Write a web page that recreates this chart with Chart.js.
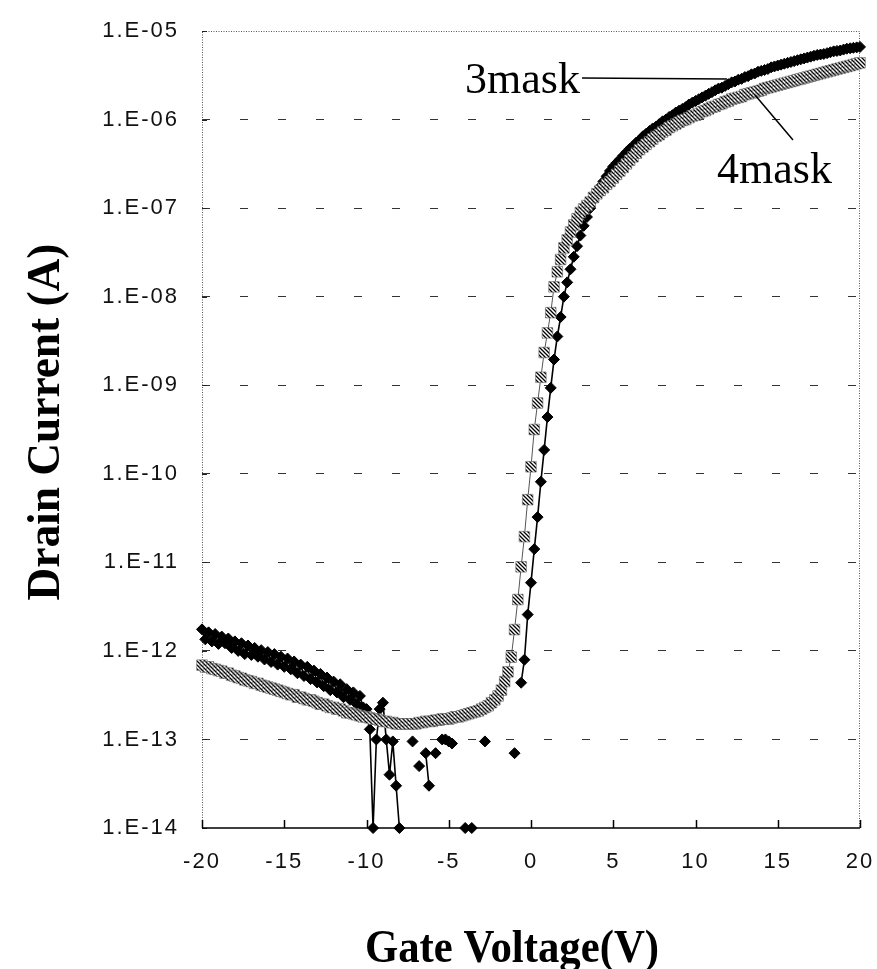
<!DOCTYPE html>
<html>
<head>
<meta charset="utf-8">
<script src="https://cdn.jsdelivr.net/npm/chart.js@4"></script>
<style>
  html, body { margin: 0; padding: 0; background: #fff; }
  #wrap { width: 877px; height: 969px; }
</style>
</head>
<body>
<div id="wrap"><canvas id="ivChart" width="877" height="969"></canvas></div>
<script>
"use strict";

// gate voltage sweep (V), 0.2 V steps
const gateVoltage = [
  -20.0, -19.8, -19.6, -19.4, -19.2, -19.0, -18.8, -18.6, -18.4, -18.2,
  -18.0, -17.8, -17.6, -17.4, -17.2, -17.0, -16.8, -16.6, -16.4, -16.2,
  -16.0, -15.8, -15.6, -15.4, -15.2, -15.0, -14.8, -14.6, -14.4, -14.2,
  -14.0, -13.8, -13.6, -13.4, -13.2, -13.0, -12.8, -12.6, -12.4, -12.2,
  -12.0, -11.8, -11.6, -11.4, -11.2, -11.0, -10.8, -10.6, -10.4, -10.2,
  -10.0, -9.8, -9.6, -9.4, -9.2, -9.0, -8.8, -8.6, -8.4, -8.2,
  -8.0, -7.8, -7.6, -7.4, -7.2, -7.0, -6.8, -6.6, -6.4, -6.2,
  -6.0, -5.8, -5.6, -5.4, -5.2, -5.0, -4.8, -4.6, -4.4, -4.2,
  -4.0, -3.8, -3.6, -3.4, -3.2, -3.0, -2.8, -2.6, -2.4, -2.2,
  -2.0, -1.8, -1.6, -1.4, -1.2, -1.0, -0.8, -0.6, -0.4, -0.2,
  0.0, 0.2, 0.4, 0.6, 0.8, 1.0, 1.2, 1.4, 1.6, 1.8,
  2.0, 2.2, 2.4, 2.6, 2.8, 3.0, 3.2, 3.4, 3.6, 3.8,
  4.0, 4.2, 4.4, 4.6, 4.8, 5.0, 5.2, 5.4, 5.6, 5.8,
  6.0, 6.2, 6.4, 6.6, 6.8, 7.0, 7.2, 7.4, 7.6, 7.8,
  8.0, 8.2, 8.4, 8.6, 8.8, 9.0, 9.2, 9.4, 9.6, 9.8,
  10.0, 10.2, 10.4, 10.6, 10.8, 11.0, 11.2, 11.4, 11.6, 11.8,
  12.0, 12.2, 12.4, 12.6, 12.8, 13.0, 13.2, 13.4, 13.6, 13.8,
  14.0, 14.2, 14.4, 14.6, 14.8, 15.0, 15.2, 15.4, 15.6, 15.8,
  16.0, 16.2, 16.4, 16.6, 16.8, 17.0, 17.2, 17.4, 17.6, 17.8,
  18.0, 18.2, 18.4, 18.6, 18.8, 19.0, 19.2, 19.4, 19.6, 19.8,
  20.0
];

// drain current (A), 3 mask process; null = not plotted (<= 0 on log axis)
const drain3mask = [
  1.75e-12, 1.35e-12, 1.62e-12, 1.28e-12, 1.55e-12, 1.20e-12, 1.45e-12, 1.22e-12, 1.38e-12, 1.08e-12,
  1.28e-12, 1.00e-12, 1.22e-12, 9.2e-13, 1.15e-12, 9.0e-13, 1.08e-12, 8.6e-13, 1.02e-12, 8.0e-13,
  9.7e-13, 7.5e-13, 9.2e-13, 7.0e-13, 8.6e-13, 6.6e-13, 8.2e-13, 6.2e-13, 7.6e-13, 5.6e-13,
  7.0e-13, 5.2e-13, 6.6e-13, 4.8e-13, 6.0e-13, 4.4e-13, 5.5e-13, 4.0e-13, 5.0e-13, 3.6e-13,
  4.5e-13, 3.4e-13, 4.2e-13, 3.0e-13, 3.7e-13, 2.8e-13, 3.4e-13, 2.5e-13, 3.1e-13, 2.3e-13,
  2.2e-13, 1.3e-13, 1e-14, 1.0e-13, 2.2e-13, 2.6e-13, 1.0e-13, 4.0e-14, 9.5e-14, 3.0e-14,
  1e-14, null, null, null, 9.5e-14, null, 5.0e-14, null, 7.0e-14, 3.0e-14,
  null, 7.0e-14, null, 1.0e-13, 1.0e-13, 9.5e-14, 9.0e-14, null, null, null,
  1e-14, null, 1e-14, null, null, null, 9.5e-14, null, null, null,
  null, null, null, null, null, 7.0e-14, null, 4.37e-13, 7.94e-13, 2.57e-12,
  5.89e-12, 1.41e-11, 3.24e-11, 8.13e-11, 1.86e-10, 4.37e-10, 9.33e-10, 1.95e-9, 3.55e-9, 5.89e-9,
  1.0e-8, 1.45e-8, 2.04e-8, 2.82e-8, 3.72e-8, 4.90e-8, 6.31e-8, 7.94e-8, 1.0e-7, 1.23e-7,
  1.48e-7, 1.74e-7, 2.0e-7, 2.29e-7, 2.63e-7, 2.95e-7, 3.24e-7, 3.55e-7, 3.89e-7, 4.27e-7,
  4.68e-7, 5.01e-7, 5.50e-7, 5.89e-7, 6.46e-7, 6.92e-7, 7.41e-7, 7.94e-7, 8.32e-7, 8.91e-7,
  9.55e-7, 1.0e-6, 1.07e-6, 1.12e-6, 1.20e-6, 1.26e-6, 1.32e-6, 1.38e-6, 1.48e-6, 1.55e-6,
  1.62e-6, 1.70e-6, 1.78e-6, 1.86e-6, 1.95e-6, 2.04e-6, 2.14e-6, 2.24e-6, 2.29e-6, 2.40e-6,
  2.51e-6, 2.63e-6, 2.69e-6, 2.82e-6, 2.88e-6, 3.02e-6, 3.09e-6, 3.24e-6, 3.31e-6, 3.47e-6,
  3.55e-6, 3.63e-6, 3.72e-6, 3.89e-6, 3.98e-6, 4.07e-6, 4.17e-6, 4.27e-6, 4.37e-6, 4.47e-6,
  4.57e-6, 4.68e-6, 4.79e-6, 4.90e-6, 5.01e-6, 5.13e-6, 5.25e-6, 5.37e-6, 5.43e-6, 5.50e-6,
  5.62e-6, 5.75e-6, 5.89e-6, 5.96e-6, 6.03e-6, 6.17e-6, 6.31e-6, 6.38e-6, 6.46e-6, 6.53e-6,
  6.61e-6
];

// drain current (A), 4 mask process
const drain4mask = [
  6.9e-13, 6.6e-13, 6.6e-13, 6.3e-13, 6.2e-13, 6.0e-13, 5.9e-13, 5.6e-13, 5.6e-13, 5.3e-13,
  5.2e-13, 5.0e-13, 4.9e-13, 4.7e-13, 4.6e-13, 4.5e-13, 4.3e-13, 4.3e-13, 4.1e-13, 4.0e-13,
  3.9e-13, 3.8e-13, 3.7e-13, 3.6e-13, 3.5e-13, 3.4e-13, 3.3e-13, 3.2e-13, 3.2e-13, 3.0e-13,
  3.0e-13, 2.9e-13, 2.8e-13, 2.8e-13, 2.7e-13, 2.6e-13, 2.5e-13, 2.5e-13, 2.4e-13, 2.3e-13,
  2.3e-13, 2.2e-13, 2.2e-13, 2.1e-13, 2.0e-13, 2.0e-13, 1.95e-13, 1.9e-13, 1.85e-13, 1.8e-13,
  1.8e-13, 1.75e-13, 1.7e-13, 1.7e-13, 1.65e-13, 1.6e-13, 1.6e-13, 1.55e-13, 1.55e-13, 1.5e-13,
  1.5e-13, 1.5e-13, 1.5e-13, 1.5e-13, 1.5e-13, 1.5e-13, 1.55e-13, 1.55e-13, 1.6e-13, 1.6e-13,
  1.6e-13, 1.65e-13, 1.65e-13, 1.7e-13, 1.7e-13, 1.7e-13, 1.75e-13, 1.8e-13, 1.8e-13, 1.85e-13,
  1.9e-13, 1.95e-13, 2.0e-13, 2.05e-13, 2.1e-13, 2.2e-13, 2.3e-13, 2.4e-13, 2.6e-13, 2.8e-13,
  3.1e-13, 3.6e-13, 4.5e-13, 5.8e-13, 8.5e-13, 1.74e-12, 3.8e-12, 8.9e-12, 1.95e-11, 5.1e-11,
  1.2e-10, 3.16e-10, 6.3e-10, 1.23e-9, 2.34e-9, 3.9e-9, 6.6e-9, 1.29e-8, 1.91e-8, 2.63e-8,
  3.55e-8, 4.37e-8, 5.37e-8, 6.46e-8, 7.59e-8, 8.91e-8, 9.77e-8, 1.07e-7, 1.17e-7, 1.32e-7,
  1.45e-7, 1.58e-7, 1.70e-7, 1.86e-7, 2.0e-7, 2.19e-7, 2.40e-7, 2.63e-7, 2.88e-7, 3.16e-7,
  3.47e-7, 3.80e-7, 4.17e-7, 4.57e-7, 4.90e-7, 5.25e-7, 5.62e-7, 6.03e-7, 6.46e-7, 6.76e-7,
  7.24e-7, 7.59e-7, 8.13e-7, 8.51e-7, 8.91e-7, 9.33e-7, 9.77e-7, 1.0e-6, 1.05e-6, 1.10e-6,
  1.12e-6, 1.17e-6, 1.23e-6, 1.26e-6, 1.32e-6, 1.38e-6, 1.41e-6, 1.48e-6, 1.51e-6, 1.58e-6,
  1.62e-6, 1.70e-6, 1.74e-6, 1.78e-6, 1.82e-6, 1.91e-6, 1.95e-6, 2.00e-6, 2.04e-6, 2.09e-6,
  2.14e-6, 2.24e-6, 2.29e-6, 2.34e-6, 2.40e-6, 2.45e-6, 2.51e-6, 2.57e-6, 2.63e-6, 2.69e-6,
  2.75e-6, 2.82e-6, 2.88e-6, 2.95e-6, 3.02e-6, 3.09e-6, 3.16e-6, 3.24e-6, 3.31e-6, 3.39e-6,
  3.47e-6, 3.55e-6, 3.63e-6, 3.72e-6, 3.80e-6, 3.89e-6, 3.98e-6, 4.07e-6, 4.17e-6, 4.27e-6,
  4.37e-6
];

const seriesNames = ["3mask", "4mask"];
const xTickValues = [-20, -15, -10, -5, 0, 5, 10, 15, 20];
const xTickLabels = ["-20", "-15", "-10", "-5", "0", "5", "10", "15", "20"];
const yTickValues = [1e-14, 1e-13, 1e-12, 1e-11, 1e-10, 1e-9, 1e-8, 1e-7, 1e-6, 1e-5];
const yTickLabels = ["1.E-14", "1.E-13", "1.E-12", "1.E-11", "1.E-10", "1.E-09", "1.E-08", "1.E-07", "1.E-06", "1.E-05"];
const xTitle = "Gate Voltage(V)";
const yTitle = "Drain Current (A)";

function hatchPattern() {
  const c = document.createElement("canvas");
  c.width = 4;
  c.height = 4;
  const g = c.getContext("2d");
  g.fillStyle = "#fff";
  g.fillRect(0, 0, 4, 4);
  g.strokeStyle = "#000";
  g.lineWidth = 1.3;
  g.beginPath();
  g.moveTo(0, 0); g.lineTo(4, 4);
  g.moveTo(3, -1); g.lineTo(5, 1);
  g.moveTo(-1, 3); g.lineTo(1, 5);
  g.stroke();
  return g.createPattern(c, "repeat");
}

function toPoints(ys) {
  return gateVoltage.map((v, i) => ({ x: v, y: ys[i] }));
}

// frame, axis ticks, titles and the two callouts
const decorations = {
  id: "decorations",
  beforeDraw(chart) {
    // the original tick labels are widely spaced
    chart.ctx.letterSpacing = "2px";
  },
  beforeDatasetsDraw(chart) {
    const ctx = chart.ctx;
    const a = chart.chartArea;
    const xs = chart.scales.x;
    const ys = chart.scales.y;
    ctx.save();
    ctx.strokeStyle = "#555";
    ctx.lineWidth = 1;
    ctx.setLineDash([1, 1.5]);
    ctx.beginPath();
    ctx.moveTo(a.left + 0.5, a.bottom);
    ctx.lineTo(a.left + 0.5, a.top + 0.5);
    ctx.lineTo(a.right - 0.5, a.top + 0.5);
    ctx.lineTo(a.right - 0.5, a.bottom);
    ctx.stroke();
    ctx.setLineDash([]);
    ctx.strokeStyle = "#222";
    ctx.beginPath();
    yTickValues.forEach(v => {
      const y = Math.round(ys.getPixelForValue(v)) + 0.5;
      ctx.moveTo(a.left, y);
      ctx.lineTo(a.left + 5, y);
    });
    ctx.stroke();
    ctx.strokeStyle = "#000";
    ctx.lineWidth = 1.5;
    ctx.beginPath();
    ctx.moveTo(a.left, a.bottom);
    ctx.lineTo(a.right, a.bottom);
    xTickValues.forEach(v => {
      const x = Math.round(xs.getPixelForValue(v)) + 0.5;
      ctx.moveTo(x, a.bottom);
      ctx.lineTo(x, a.bottom - 8);
    });
    ctx.stroke();
    ctx.restore();
  },
  afterDraw(chart) {
    const ctx = chart.ctx;
    ctx.save();
    ctx.letterSpacing = "0px";
    ctx.fillStyle = "#000";
    ctx.font = 'bold 47px "Liberation Serif"';
    ctx.textAlign = "center";
    ctx.textBaseline = "alphabetic";
    ctx.save();
    ctx.translate(512, 962);
    ctx.scale(0.91, 1);
    ctx.fillText(xTitle, 0, 0);
    ctx.restore();
    ctx.save();
    ctx.translate(59, 422);
    ctx.rotate(-Math.PI / 2);
    ctx.scale(0.965, 1);
    ctx.fillText(yTitle, 0, 0);
    ctx.restore();

    ctx.font = '44px "Liberation Serif"';
    ctx.textAlign = "left";
    ctx.fillText(seriesNames[0], 465, 93);
    ctx.fillText(seriesNames[1], 717, 183);
    ctx.strokeStyle = "#000";
    ctx.lineWidth = 1.5;
    ctx.beginPath();
    ctx.moveTo(582, 78);
    ctx.lineTo(727, 79);
    ctx.moveTo(755, 95);
    ctx.lineTo(793, 140);
    ctx.stroke();
    ctx.restore();
  }
};

const tickFont = { family: "Liberation Sans", size: 22 };

new Chart(document.getElementById("ivChart"), {
  type: "line",
  data: {
    datasets: [
      {
        label: seriesNames[0],
        data: toPoints(drain3mask),
        order: 2,
        borderColor: "#000",
        borderWidth: 1.6,
        pointStyle: "rectRot",
        pointRadius: 5.5,
        pointBackgroundColor: "#000",
        pointBorderColor: "#000",
        pointBorderWidth: 1,
        spanGaps: false,
        clip: false,
      },
      {
        label: seriesNames[1],
        data: toPoints(drain4mask),
        order: 1,
        borderColor: "#555",
        borderWidth: 1,
        pointStyle: "rect",
        pointRadius: 7.5,
        pointBackgroundColor: hatchPattern(),
        pointBorderColor: "#666",
        pointBorderWidth: 0.6,
        clip: false,
      },
    ],
  },
  options: {
    responsive: false,
    animation: false,
    devicePixelRatio: 1,
    events: [],
    layout: { padding: { top: 31, right: 17, bottom: 0, left: 0 } },
    plugins: {
      legend: { display: false },
      tooltip: { enabled: false },
    },
    scales: {
      x: {
        type: "linear",
        min: -20,
        max: 20,
        afterBuildTicks: scale => {
          scale.ticks = xTickValues.map(v => ({ value: v }));
        },
        afterFit: scale => {
          scale.height = 141;
          scale.paddingLeft = 0;
          scale.paddingRight = 0;
        },
        grid: { display: false, drawTicks: false },
        border: { display: false },
        ticks: {
          font: tickFont,
          color: "#111",
          padding: 21,
          maxRotation: 0,
          autoSkip: false,
          callback: (value, index) => xTickLabels[index],
        },
      },
      y: {
        type: "logarithmic",
        min: 1e-14,
        max: 1e-5,
        afterBuildTicks: scale => {
          scale.ticks = yTickValues.map(v => ({ value: v }));
        },
        afterFit: scale => {
          scale.width = 202;
          scale.paddingTop = 0;
          scale.paddingBottom = 0;
        },
        grid: {
          drawTicks: false,
          color: ctx => (ctx.index === 0 || ctx.index === yTickValues.length - 1) ? "rgba(0,0,0,0)" : "#333",
          lineWidth: 1,
        },
        border: { display: false, dash: [8, 30] },
        ticks: {
          font: tickFont,
          color: "#111",
          padding: 23,
          autoSkip: false,
          callback: (value, index) => yTickLabels[index],
        },
      },
    },
  },
  plugins: [decorations],
});
</script>
</body>
</html>
